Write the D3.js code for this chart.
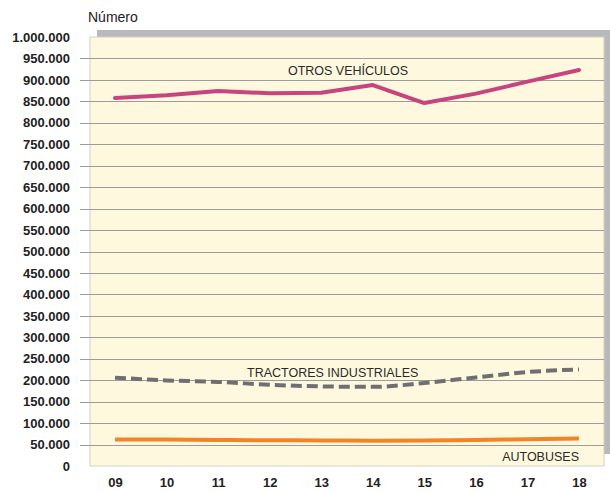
<!DOCTYPE html>
<html>
<head>
<meta charset="utf-8">
<script src="https://cdn.jsdelivr.net/npm/d3@7"></script>
<style>
  body { margin: 0; background: #fff; }
  text { font-family: "Liberation Sans", Arial, sans-serif; fill: #222; }
  .axis text { font-weight: bold; font-size: 13px; }
  .axis path, .axis line { display: none; }
  .serie-label { font-size: 12.5px; fill: #2a2a2a; }
</style>
</head>
<body>
<div id="chart"></div>
<script>
(function() {
  var margin = { top: 37, left: 90, right: 6, bottom: 26 },
      width = 610 - margin.left - margin.right,
      height = 492 - margin.top - margin.bottom;

  var years = ["09", "10", "11", "12", "13", "14", "15", "16", "17", "18"];
  var otros = [858000, 864000, 874000, 869000, 870000, 888000, 846000, 868000, 896000, 923000];
  var tractores = [206000, 199500, 196000, 189500, 185500, 184500, 193500, 206500, 219000, 225000];
  var autobuses = [62000, 61500, 60500, 60000, 59500, 59000, 59500, 60500, 62500, 64000];
  var yTicks = d3.range(0, 1000001, 50000);

  var es = d3.formatLocale({ decimal: ",", thousands: ".", grouping: [3], currency: ["", " €"] });
  var fmt = es.format(",d");

  var svg = d3.select("#chart")
    .append("svg")
    .attr("width", 610)
    .attr("height", 492)
    .append("g")
    .attr("transform", "translate(" + margin.left + "," + margin.top + ")");

  var xPositionScale = d3.scalePoint().domain(years).range([25, 489]);
  var yPositionScale = d3.scaleLinear().domain([0, 1000000]).range([height, 0]);

  // shadow + background
  svg.append("rect")
    .attr("x", 7).attr("y", -7)
    .attr("width", width + 1).attr("height", height - 5)
    .attr("fill", "#b9b9bd");
  svg.append("rect")
    .attr("x", 0).attr("y", 0)
    .attr("width", width).attr("height", height)
    .attr("fill", "#fef9de")
    .attr("stroke", "#d2d0c2")
    .attr("stroke-width", 1);

  // grid lines
  svg.selectAll(".grid")
    .data(yTicks.filter(function(d) { return d > 0 && d < 1000000; }))
    .enter().append("line")
    .attr("class", "grid")
    .attr("x1", -10)
    .attr("x2", width)
    .attr("y1", function(d) { return Math.round(yPositionScale(d)) + 0.5; })
    .attr("y2", function(d) { return Math.round(yPositionScale(d)) + 0.5; })
    .attr("stroke", "#9c9c9c")
    .attr("stroke-width", 1);

  // axes
  var yAxis = d3.axisLeft(yPositionScale)
    .tickValues(yTicks)
    .tickSize(0)
    .tickPadding(20)
    .tickFormat(fmt);
  svg.append("g")
    .attr("class", "axis y-axis")
    .call(yAxis);

  var xAxis = d3.axisBottom(xPositionScale).tickSize(0).tickPadding(12);
  svg.append("g")
    .attr("class", "axis x-axis")
    .attr("transform", "translate(0," + height + ")")
    .call(xAxis);

  svg.append("text")
    .attr("x", -2)
    .attr("y", -15)
    .style("font-size", "14px")
    .text("Número");

  var smooth = d3.line()
    .x(function(d, i) { return xPositionScale(years[i]); })
    .y(function(d) { return yPositionScale(d); })
    .curve(d3.curveMonotoneX);

  var straight = d3.line()
    .x(function(d, i) { return xPositionScale(years[i]); })
    .y(function(d) { return yPositionScale(d); });

  svg.append("path")
    .datum(autobuses)
    .attr("d", smooth)
    .attr("fill", "none")
    .attr("stroke", "#f28326")
    .attr("stroke-width", 4);

  svg.append("path")
    .datum(tractores)
    .attr("d", smooth)
    .attr("fill", "none")
    .attr("stroke", "#6f6f71")
    .attr("stroke-width", 4)
    .attr("stroke-dasharray", "11,5");

  svg.append("path")
    .datum(otros)
    .attr("d", straight)
    .attr("fill", "none")
    .attr("stroke", "#c8447f")
    .attr("stroke-width", 4)
    .attr("stroke-linejoin", "round")
    .attr("stroke-linecap", "round");

  // series labels
  svg.append("text")
    .attr("class", "serie-label")
    .attr("x", 258)
    .attr("y", 38)
    .attr("text-anchor", "middle")
    .text("OTROS VEHÍCULOS");
  svg.append("text")
    .attr("class", "serie-label")
    .attr("x", 157)
    .attr("y", 340)
    .text("TRACTORES INDUSTRIALES");
  svg.append("text")
    .attr("class", "serie-label")
    .attr("x", 489)
    .attr("y", 424)
    .attr("text-anchor", "end")
    .text("AUTOBUSES");
})();
</script>
</body>
</html>
